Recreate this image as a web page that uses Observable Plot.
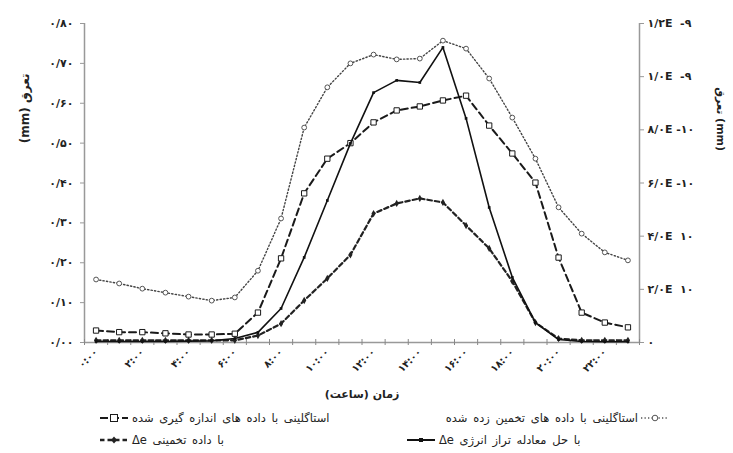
<!DOCTYPE html>
<html><head><meta charset="utf-8">
<script src="https://cdn.jsdelivr.net/npm/d3@7"></script>
<script src="https://cdn.jsdelivr.net/npm/@observablehq/plot@0.6"></script>
<style>
body{margin:0;background:#fff;font-family:"DejaVu Sans",sans-serif;}
#wrap{width:733px;}
#legend{position:relative;width:733px;height:47px;font-size:11.5px;color:#222;font-family:"DejaVu Sans",sans-serif;}
.item{position:absolute;display:flex;align-items:center;white-space:nowrap;height:16px;}
.item span{direction:rtl;unicode-bidi:isolate;word-spacing:2px;}
</style></head><body><div id="wrap"><div id="chart"></div><div id="legend"></div></div>
<script>
// categories: hour of day
const hours = [0,1,2,3,4,5,6,7,8,9,10,11,12,13,14,15,16,17,18,19,20,21,22,23];
const labelHours = [0,2,4,6,8,10,12,14,16,18,20,22];
const hourLabels = ["۰:۰۰","۲:۰۰","۴:۰۰","۶:۰۰","۸:۰۰","۱۰:۰۰","۱۲:۰۰","۱۴:۰۰","۱۶:۰۰","۱۸:۰۰","۲۰:۰۰","۲۲:۰۰"];

// left axis (mm)
const leftTicks = [0,0.1,0.2,0.3,0.4,0.5,0.6,0.7,0.8];
const leftLabels = ["۰/۰۰","۰/۱۰","۰/۲۰","۰/۳۰","۰/۴۰","۰/۵۰","۰/۶۰","۰/۷۰","۰/۸۰"];
// right axis (mm)
const rightTicks = [0,2e-10,4e-10,6e-10,8e-10,1.0e-9,1.2e-9];
const rightLabels = ["۰","۲/۰E  ۱۰","۴/۰E  ۱۰","۶/۰E -۱۰","۸/۰E -۱۰","۱/۰E  -۹","۱/۲E  -۹"];

// series (left axis)
const stagEstimated = [0.158,0.148,0.135,0.125,0.115,0.105,0.113,0.180,0.311,0.539,0.640,0.700,0.722,0.710,0.712,0.757,0.737,0.662,0.564,0.461,0.339,0.273,0.226,0.206];
const stagMeasured  = [0.030,0.026,0.026,0.023,0.020,0.020,0.022,0.075,0.211,0.374,0.461,0.500,0.552,0.582,0.592,0.607,0.619,0.544,0.474,0.401,0.213,0.075,0.050,0.038];
// series (right axis)
const deltaEnergy    = [0.004e-9,0.004e-9,0.004e-9,0.004e-9,0.005e-9,0.006e-9,0.015e-9,0.038e-9,0.128e-9,0.320e-9,0.534e-9,0.749e-9,0.940e-9,0.986e-9,0.978e-9,1.110e-9,0.843e-9,0.508e-9,0.245e-9,0.075e-9,0.011e-9,0.004e-9,0.003e-9,0.003e-9];
const deltaEstimated = [0.008e-9,0.008e-9,0.008e-9,0.008e-9,0.008e-9,0.008e-9,0.008e-9,0.026e-9,0.071e-9,0.158e-9,0.241e-9,0.330e-9,0.485e-9,0.523e-9,0.542e-9,0.527e-9,0.440e-9,0.354e-9,0.230e-9,0.075e-9,0.015e-9,0.008e-9,0.008e-9,0.008e-9];

const legendLabels = {
  measured: "استاگلینی با داده های اندازه گیری شده",
  estimated: "استاگلینی با داده های تخمین زده شده",
  dEst: "با داده تخمینی Δe",
  dEnergy: "با حل معادله تراز انرژی Δe"
};
const xTitle = "زمان (ساعت)";
const yTitle = "تعرق (mm)";

const k = 0.8 / 1.2e-9; // right-axis to left-axis conversion
const rows = hours.map((h, i) => ({h, est: stagEstimated[i], meas: stagMeasured[i], de: deltaEnergy[i] * k, dest: deltaEstimated[i] * k}));
const bounds = hours.map(h => h - 0.5).concat([23.5]);

const chart = Plot.plot({
  width: 733, height: 406,
  marginLeft: 84, marginRight: 94, marginTop: 23, marginBottom: 64,
  style: {fontFamily: "DejaVu Sans", fontSize: "10px", color: "#222", background: "#fff"},
  x: {domain: [-0.5, 23.5]},
  y: {domain: [0, 0.8]},
  marks: [
    Plot.ruleY([0], {stroke: "#999", strokeWidth: 1.5}),
    Plot.ruleX([-0.5, 23.5], {y1: 0, y2: 0.8, stroke: "#999", strokeWidth: 1.5}),
    Plot.ruleX(bounds, {x: d => d, y1: 0, y2: 0, insetTop: -3, insetBottom: -3, stroke: "#888"}),
    Plot.axisY({ticks: leftTicks, tickFormat: d => leftLabels[leftTicks.findIndex(v => Math.abs(v - d) < 1e-6)], tickSize: 4, tickPadding: 7, stroke: "#999", fontWeight: "bold", fontSize: 11, label: null}),
    Plot.axisY({anchor: "right", ticks: rightTicks.map(v => v * k), tickFormat: d => rightLabels[rightTicks.findIndex(v => Math.abs(v * k - d) < 1e-6)], tickSize: 4, tickPadding: 4, stroke: "#999", fontWeight: "bold", fontSize: 11, label: null}),
    Plot.axisX({ticks: labelHours, tickFormat: d => hourLabels[labelHours.indexOf(d)], tickRotate: -45, tickSize: 0, tickPadding: 8, fontWeight: "bold", fontSize: 10, label: null}),
    Plot.text([xTitle], {text: d => "\u2067" + d + "\u2069", frameAnchor: "bottom", dy: 55, fontWeight: "bold", fontSize: 11}),
    Plot.text([yTitle], {text: d => "\u2067" + d + "\u2069", frameAnchor: "left", y: [0.5], dx: -59, rotate: -90, fontWeight: "bold", fontSize: 12}),
    Plot.text([yTitle], {text: d => d, frameAnchor: "right", y: [0.48], dx: 81, rotate: 90, fontWeight: "bold", fontSize: 11}),
    // dotted with open circles
    Plot.line(rows, {x: "h", y: "est", stroke: "#444", strokeWidth: 1.4, strokeDasharray: "1.3,2.2"}),
    Plot.dot(rows, {x: "h", y: "est", r: 2.4, fill: "white", stroke: "#555", strokeWidth: 1}),
    // long dashed with open squares
    Plot.line(rows, {x: "h", y: "meas", stroke: "#1a1a1a", strokeWidth: 2, strokeDasharray: "7,4"}),
    Plot.dot(rows, {x: "h", y: "meas", symbol: "square", r: 3, fill: "white", stroke: "#1a1a1a", strokeWidth: 1}),
    // short dashed with filled diamonds
    Plot.line(rows, {x: "h", y: "dest", stroke: "#222", strokeWidth: 2.2, strokeDasharray: "4.5,3"}),
    Plot.dot(rows, {x: "h", y: "dest", symbol: "diamond", r: 2.2, fill: "#222", stroke: "none"}),
    // solid with small markers
    Plot.line(rows, {x: "h", y: "de", stroke: "#111", strokeWidth: 1.6}),
    Plot.dot(rows, {x: "h", y: "de", symbol: "square", r: 1.5, fill: "#111", stroke: "none"})
  ]
});
document.getElementById("chart").appendChild(chart);

// legend
const legend = document.getElementById("legend");
function swatch(kind) {
  const w = 28, c = 8;
  let s = `<svg width="${w}" height="16" style="flex:none">`;
  if (kind === "meas") s += `<line x1="0" y1="${c}" x2="${w}" y2="${c}" stroke="#1a1a1a" stroke-width="2.2" stroke-dasharray="8,3"/><rect x="${w/2-3.5}" y="${c-3.5}" width="7" height="7" fill="white" stroke="#1a1a1a"/>`;
  if (kind === "est") s += `<line x1="0" y1="${c}" x2="${w}" y2="${c}" stroke="#555" stroke-width="1.5" stroke-dasharray="1.3,2.2"/><circle cx="${w/2}" cy="${c}" r="2.8" fill="white" stroke="#555"/>`;
  if (kind === "dest") s += `<line x1="0" y1="${c}" x2="${w}" y2="${c}" stroke="#222" stroke-width="2.4" stroke-dasharray="4.5,3"/><path d="M${w/2},${c-3.5}L${w/2+3},${c}L${w/2},${c+3.5}L${w/2-3},${c}Z" fill="#222"/>`;
  if (kind === "de") s += `<line x1="0" y1="${c}" x2="${w}" y2="${c}" stroke="#111" stroke-width="2"/><rect x="${w/2-2}" y="${c-2}" width="4" height="4" fill="#111"/>`;
  return s + `</svg>`;
}
const items = [
  {style: "left:100px;top:4px", html: swatch("meas") + `<span style="margin-left:4px">${legendLabels.measured}</span>`},
  {style: "right:95px;top:4px", html: `<span>${legendLabels.estimated}</span>`},
  {style: "left:641px;top:4px", html: swatch("est")},
  {style: "left:100px;top:26px", html: swatch("dest") + `<span style="margin-left:4px">${legendLabels.dEst}</span>`},
  {style: "left:407px;top:26px", html: swatch("de") + `<span style="margin-left:4px">${legendLabels.dEnergy}</span>`}
];
for (const it of items) {
  const d = document.createElement("div");
  d.className = "item";
  d.style.cssText = it.style;
  d.innerHTML = it.html;
  legend.appendChild(d);
}
</script></body></html>
